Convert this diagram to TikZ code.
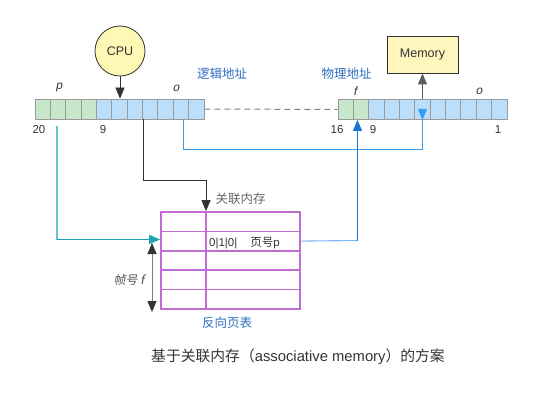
\documentclass[tikz,border=0pt]{standalone}
\usepackage{fontspec}
\setmainfont{Liberation Sans}
\newfontfamily\cjk{Noto Sans CJK SC}
\newfontfamily\itf[FakeSlant=0.2]{Noto Sans CJK SC}
\newfontfamily\itl[FakeSlant=0.2]{Liberation Sans}
\usetikzlibrary{arrows.meta}
\definecolor{txt}{HTML}{333333}
\definecolor{lbl}{HTML}{2E6CC0}
\definecolor{grn}{HTML}{C8E6C9}
\definecolor{blu}{HTML}{BBDEFB}
\definecolor{cellb}{HTML}{9A9A9A}
\definecolor{purp}{HTML}{C06CD0}
\definecolor{teal1}{HTML}{1FA3B3}
\definecolor{teal2}{HTML}{6CC4D2}
\definecolor{lblue}{HTML}{7DB8F0}
\definecolor{mblue}{HTML}{3A9CF0}
\definecolor{dblue}{HTML}{1A74D4}
\definecolor{cpuf}{HTML}{FFF8B4}
\definecolor{memf}{HTML}{FFF6BE}
\tikzset{
  cellg/.style={draw=cellb, fill=grn, minimum width=15.36pt, minimum height=20pt, inner sep=0pt, line width=0.8pt},
  cellbl/.style={draw=cellb, fill=blu, minimum width=15.36pt, minimum height=20pt, inner sep=0pt, line width=0.8pt},
  row/.style={draw=purp, line width=1.6pt, minimum width=139pt, minimum height=19.4pt, inner sep=0pt},
  tip/.style={-{Triangle[length=11pt,width=9pt]}},
  numlbl/.style={font=\fontsize{11.5}{12}\selectfont, text=txt},
  cnlbl/.style={font=\cjk\fontsize{12.5}{14}\selectfont},
}
\begin{document}
\begin{tikzpicture}[x=1pt,y=-1pt]
\useasboundingbox (0,0) rectangle (538,401);
% left register
\foreach \i in {0,...,10}{
  \pgfmathsetmacro\cx{35+15.36*(\i+0.5)}
  \ifnum\i<4
    \node[cellg] (L\i) at (\cx,109) {};
  \else
    \node[cellbl] (L\i) at (\cx,109) {};
  \fi
}
% right register
\foreach \i in {0,...,10}{
  \pgfmathsetmacro\cx{338+15.36*(\i+0.5)}
  \ifnum\i<2
    \node[cellg] (R\i) at (\cx,109.5) {};
  \else
    \node[cellbl] (R\i) at (\cx,109.5) {};
  \fi
}
% CPU and memory
\node[circle, draw=txt, fill=cpuf, line width=0.8pt, minimum size=50pt, inner sep=0pt,
      font=\fontsize{12.5}{14}\selectfont, text=txt] (cpu) at (120,51) {CPU};
\node[draw=txt, fill=memf, line width=0.8pt, minimum width=71pt, minimum height=37pt,
      inner sep=0pt, font=\fontsize{12.5}{14}\selectfont, text=txt] (mem) at (422.5,54.5) {Memory};
\draw[txt, line width=0.8pt, tip] (cpu.south) -- (cpu.south |- L5.north);
\draw[txt!80, line width=0.8pt, tip] (R5.north) -- (R5.north |- mem.south);
% dashed link
\draw[gray, line width=1pt, dash pattern=on 6pt off 4pt] (L10.east) -- (R0.west);
% labels on registers
\node[cnlbl, text=lbl] (la) at (222,74) {逻辑地址};
\node[cnlbl, text=lbl] (pa) at (346.5,74) {物理地址};
\node[numlbl, font=\itl\fontsize{12}{12}\selectfont] (lp) at (59,88) {p};
\node[numlbl, font=\itl\fontsize{12}{12}\selectfont] (lo) at (176,88) {o};
\node[numlbl, font=\itl\fontsize{12}{12}\selectfont] (rf) at (355,91) {f};
\node[numlbl, font=\itl\fontsize{12}{12}\selectfont] (ro) at (479,91) {o};
\node[numlbl] (n20) at (39,130) {20};
\node[numlbl] (n9a) at (103,130) {9};
\node[numlbl] (n16) at (337,130) {16};
\node[numlbl] (n9b) at (373,130) {9};
\node[numlbl] (n1) at (498,130) {1};
% table
\foreach \k in {1,...,5}{
  \pgfmathsetmacro\ry{212+19.4*(\k-0.5)}
  \node[row] (T\k) at (230.5,\ry) {};
}
\draw[purp, line width=1.6pt] (206,212) -- (206,309);
\node[cnlbl, text=txt!75, anchor=west] (am) at (212,199) {关联内存};
\node[cnlbl, text=lbl] (ipt) at (227,323) {反向页表};
\node[font=\fontsize{11.5}{13}\selectfont, text=txt, anchor=west, inner sep=0pt] (ent) at (209,243) {0|1|0|\hspace{13pt}{\cjk 页号}p};
% black connector from logical address to table
\coordinate (bend) at (206,180);
\draw[txt, line width=0.8pt] (L6.south east) |- (bend);
\draw[txt, line width=0.8pt, tip] (bend) -- (bend |- T1.north);
% teal connector
\coordinate (ts) at (57,126);
\coordinate (tc) at (57,239.5);
\draw[teal2, line width=1.1pt] (ts) -- (tc);
\draw[teal1, line width=1.1pt, tip] (tc) -- (tc -| T2.west);
% offset connector
\coordinate (oc) at (183,149);
\draw[mblue, line width=0.9pt] (L9.south -| oc) -- (oc) -| ([yshift=8pt]R5.south);
\draw[mblue, line width=0.9pt, tip] ([yshift=8pt]R5.south) -- (R5.south);
% frame connector
\coordinate (fc) at (357.5,240.5);
\draw[lblue, line width=1.1pt] (T2.east) -- (fc);
\draw[dblue, line width=1pt, tip] (fc) -- (fc |- R1.south);
% frame number arrow
\coordinate (fa) at (152,243);
\coordinate (fb) at (152,312);
\draw[gray, line width=0.9pt, {Triangle[length=11pt,width=9pt,color=txt]}-{Triangle[length=11pt,width=9pt,color=txt]}] (fa) -- (fb);
\node[font=\itf\fontsize{12}{14}\selectfont, text=txt!85] (fl) at (129,280) {帧号 f};
% caption
\node[font=\fontsize{14.8}{17}\selectfont, text=txt] (cap) at (298,357) {{\cjk 基于关联内存（}associative memory{\cjk ）的方案}};
\end{tikzpicture}
\end{document}
